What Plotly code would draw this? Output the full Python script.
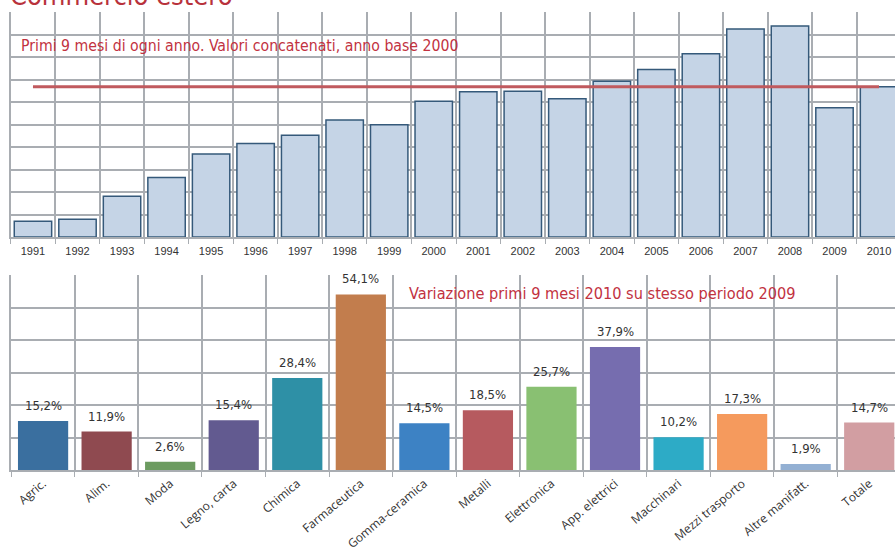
import plotly.graph_objects as go

# ---- data ----
years = ["1991", "1992", "1993", "1994", "1995", "1996", "1997", "1998", "1999", "2000",
         "2001", "2002", "2003", "2004", "2005", "2006", "2007", "2008", "2009", "2010"]
export_index = [7.0, 7.9, 18.1, 26.5, 36.9, 41.6, 45.2, 52.0, 49.9, 60.3,
                64.6, 64.8, 61.5, 69.2, 74.5, 81.5, 92.4, 93.8, 57.5, 66.8]
ref_level = export_index[-1]

sectors = ["Agric.", "Alim.", "Moda", "Legno, carta", "Chimica", "Farmaceutica",
           "Gomma-ceramica", "Metalli", "Elettronica", "App. elettrici", "Macchinari",
           "Mezzi trasporto", "Altre manifatt.", "Totale"]
variation = [15.2, 11.9, 2.6, 15.4, 28.4, 54.1, 14.5, 18.5, 25.7, 37.9, 10.2, 17.3, 1.9, 14.7]
sector_colors = ["#3a6f9f", "#8f4a50", "#6c9b60", "#625a90", "#2e90a6", "#c27d4d", "#3d82c4",
                 "#b65a5f", "#89c072", "#766daf", "#2dabc6", "#f59a5d", "#93b0d3", "#d29ea2"]

title_text = "Commercio estero"
note_top = "Primi 9 mesi di ogni anno. Valori concatenati, anno base 2000"
note_bottom = "Variazione primi 9 mesi 2010 su stesso periodo 2009"

W, H = 895, 554
NARROW = "DejaVu Sans Condensed, Liberation Sans Narrow, sans-serif"
RED = "#c2323f"
GRID = "#a9adb2"

fig = go.Figure()

fig.add_trace(go.Bar(
    x=years, y=export_index, xaxis="x", yaxis="y",
    marker=dict(color="#c5d4e6", line=dict(color="#35597a", width=1.5)),
    width=0.84, showlegend=False, hoverinfo="x+y"))

fig.add_trace(go.Scatter(
    x=[years[0], years[-1]], y=[ref_level, ref_level], xaxis="x", yaxis="y",
    mode="lines", line=dict(color="#c05a5e", width=3), showlegend=False, hoverinfo="skip"))

labels = [f"{v:.1f}%".replace(".", ",") for v in variation]
fig.add_trace(go.Bar(
    x=sectors, y=variation, xaxis="x2", yaxis="y2",
    marker=dict(color=sector_colors, line=dict(width=0)),
    width=0.79, showlegend=False, hoverinfo="x+y"))

value_annotations = [
    dict(x=s, y=v, xref="x2", yref="y2", text=t, showarrow=False,
         xanchor="center", yanchor="bottom", yshift=6,
         font=dict(family=NARROW, size=13, color="#333333"))
    for s, v, t in zip(sectors, variation, labels)
]

x0 = 10.7 / W
top_bottom_px, top_top_px = 237, 12
bot_bottom_px, bot_top_px = 470.3, 275.3

fig.update_layout(
    width=W, height=H,
    margin=dict(l=0, r=0, t=0, b=0),
    paper_bgcolor="white", plot_bgcolor="white",
    xaxis=dict(domain=[x0, 1], anchor="y", type="category",
               range=[-0.5, -0.5 + (W - 10.7) / 44.53],
               tickson="boundaries", ticks="outside", ticklen=5, tickcolor=GRID,
               showgrid=True, gridcolor=GRID, gridwidth=1.5,
               showline=True, linecolor=GRID, linewidth=1.5,
               ticklabelstandoff=3,
               tickfont=dict(family="Liberation Sans, Arial, sans-serif", size=11, color="#333333"),
               fixedrange=True),
    yaxis=dict(domain=[(H - top_bottom_px) / H, (H - top_top_px) / H], anchor="x",
               range=[0, 100], dtick=10, showticklabels=False,
               showgrid=True, gridcolor=GRID, gridwidth=1.5, zeroline=False,
               showline=True, linecolor=GRID, linewidth=1.5),
    xaxis2=dict(domain=[11.3 / W, 1], anchor="y2", type="category",
                range=[-0.5, -0.5 + (W - 11.3) / 63.55],
                tickson="boundaries", ticks="outside", ticklen=5, tickcolor=GRID,
                showgrid=True, gridcolor=GRID, gridwidth=1.5,
                showline=True, linecolor=GRID, linewidth=1.5,
                tickangle=-40,
                tickfont=dict(family="Open Sans, sans-serif", size=12, color="#333333")),
    yaxis2=dict(domain=[(H - bot_bottom_px) / H, (H - bot_top_px) / H], anchor="x2",
                range=[0, 60], dtick=10, showticklabels=False,
                showgrid=True, gridcolor=GRID, gridwidth=1.5, zeroline=False,
                showline=True, linecolor=GRID, linewidth=1.5),
    annotations=[
        dict(text=title_text, xref="paper", yref="paper", x=8 / W, y=1 + 4 / H,
             xanchor="left", yanchor="middle", showarrow=False,
             font=dict(family=NARROW, size=27, color="#b8323c")),
        dict(text=note_top, xref="paper", yref="paper", x=19 / W, y=(H - 46) / H,
             xanchor="left", yanchor="middle", showarrow=False,
             font=dict(family=NARROW, size=15.7, color=RED)),
        dict(text=note_bottom, xref="paper", yref="paper", x=407 / W, y=(H - 293) / H,
             xanchor="left", yanchor="middle", showarrow=False,
             font=dict(family=NARROW, size=16.2, color=RED)),
    ] + value_annotations,
)

fig.write_html("out.html")
